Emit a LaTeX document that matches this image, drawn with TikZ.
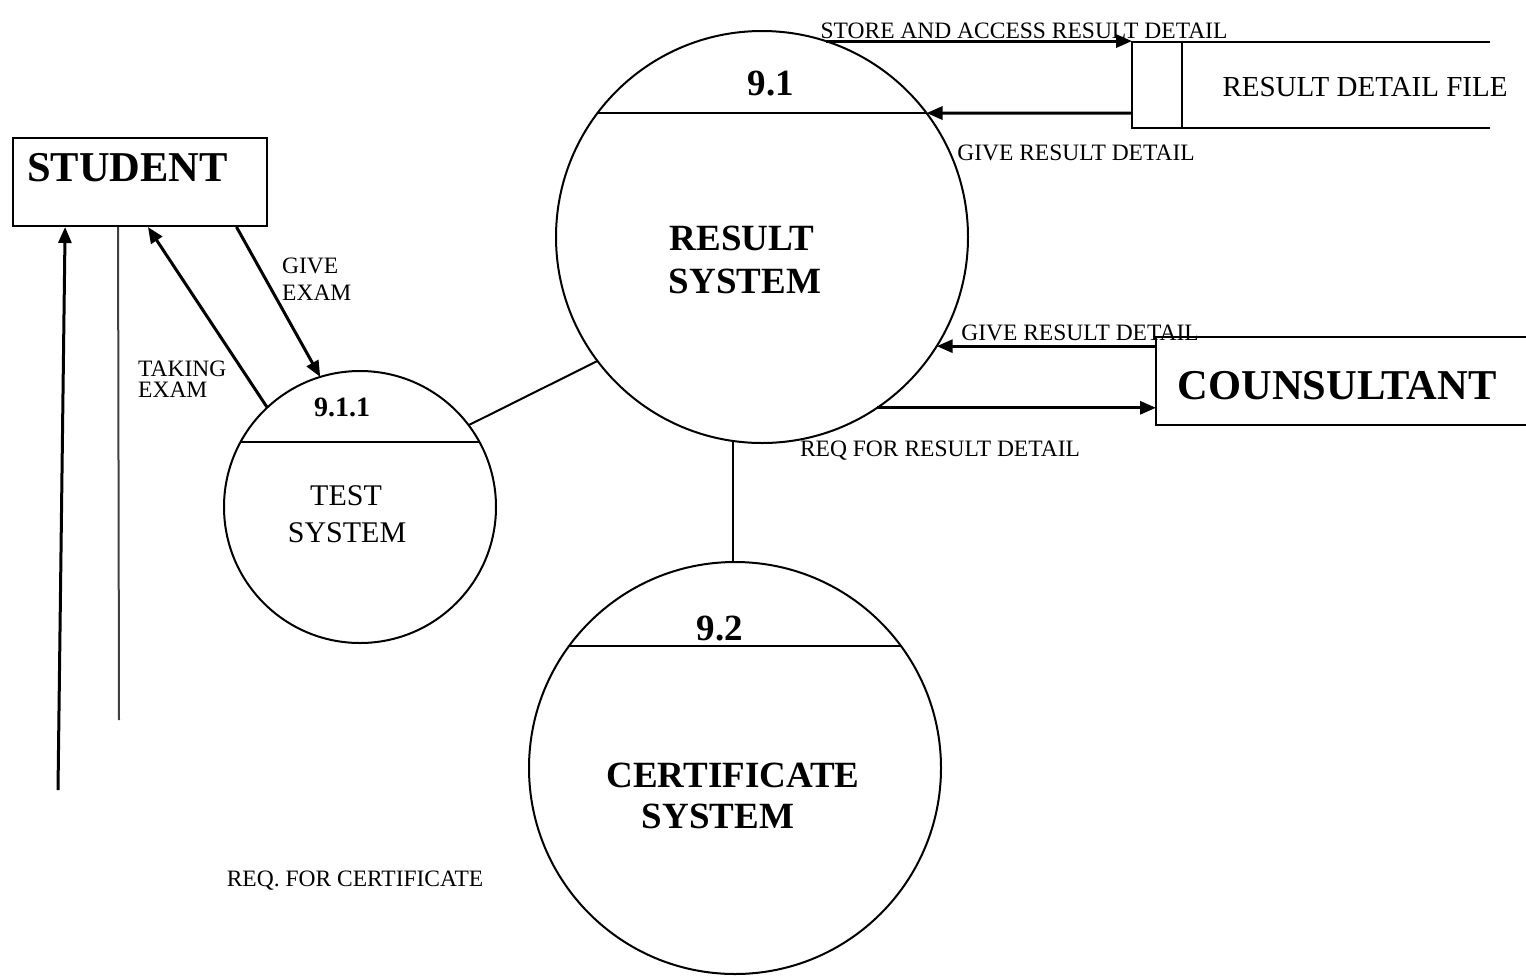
\documentclass[tikz,border=0pt]{standalone}
\usepackage{fontspec}
\setmainfont{Liberation Serif}
\usetikzlibrary{arrows.meta,calc}
\begin{document}
\begin{tikzpicture}[x=1pt,y=-1pt,
  thin line/.style={line width=2pt},
  flow/.style={line width=3pt,-{Triangle[length=16pt,width=13pt]}},
  proc/.style={circle,draw,line width=2pt,inner sep=0pt,outer sep=0pt},
  lbl/.style={inner sep=0pt,anchor=base,font=\fontsize{23.5}{23.5}\selectfont},
  big/.style={inner sep=0pt,anchor=base,font=\fontsize{42.5}{42.5}\selectfont\bfseries},
  mid/.style={inner sep=0pt,anchor=base,font=\fontsize{37}{37}\selectfont\bfseries}]
\useasboundingbox (0,0) rectangle (1526,978);

% processes
\node[proc,minimum size=412pt] (result) at (762,237) {};
\node[proc,minimum size=272pt] (test) at (360,507) {};
\node[proc,minimum size=412pt] (cert) at (735,768) {};
\draw[thin line] ($(result.center)+(-164.5,-124)$) -- ($(result.center)+(164.5,-124)$);
\draw[thin line] ($(test.center)+(-119.5,-65)$) -- ($(test.center)+(119.5,-65)$);
\draw[thin line] ($(cert.center)+(-166,-122)$) -- ($(cert.center)+(166,-122)$);

\node[mid] at (771,95) {9.1};
\node[mid] at (742,250) {RESULT};
\node[mid] at (745,293) {SYSTEM};
\node[inner sep=0pt,anchor=base,font=\fontsize{28}{28}\selectfont\bfseries] at (342,416) {9.1.1};
\node[inner sep=0pt,anchor=base,font=\fontsize{30}{30}\selectfont] at (346,505) {TEST};
\node[inner sep=0pt,anchor=base,font=\fontsize{30}{30}\selectfont] at (347,542) {SYSTEM};
\node[mid] at (720,640) {9.2};
\node[mid] at (733,787) {CERTIFICATE};
\node[mid] at (718,828) {SYSTEM};

% external entities
\node[draw,thin line,minimum width=254pt,minimum height=88pt,inner sep=0pt] (student) at (140,182) {};
\node[big,anchor=base west] at (27,181) {STUDENT};
\node[minimum width=370pt,minimum height=88pt,inner sep=0pt,outer sep=0pt] (cons) at (1341,381) {};
\draw[thin line] (cons.north east) -- (cons.north west) -- (cons.south west) -- (cons.south east);
\node[big] at (1337,399) {COUNSULTANT};

% data store
\node[minimum width=358pt,minimum height=86pt,inner sep=0pt,outer sep=0pt] (store) at (1311,85) {};
\coordinate (storein) at (1132,113);
\draw[thin line] (store.north east) -- (store.north west) -- (store.south west) -- (store.south east);
\draw[thin line] (1182,42) -- (1182,128);
\node[inner sep=0pt,anchor=base,font=\fontsize{29}{29}\selectfont] at (1365,96) {RESULT DETAIL FILE};

% connections between processes
\draw[thin line] (test.37) -- (result.217);
\draw[thin line] (result.262.5) -- (result.262.5 |- cert.north);

% data flows
\draw[flow] (result.72) -- (result.72 -| store.west);
\node[lbl] at (1024,38) {STORE AND ACCESS RESULT DETAIL};
\draw[flow] (storein) -- (result.37);
\node[lbl] at (1076,160) {GIVE RESULT DETAIL};

\draw[flow] (result.-32 -| cons.west) -- (result.-32);
\node[lbl] at (1080,340) {GIVE RESULT DETAIL};
\draw[flow] (result.-56) -- (result.-56 -| cons.west);
\node[lbl] at (940,456) {REQ FOR RESULT DETAIL};

\draw[flow] (student.335.1) -- (test.107);
\node[lbl,anchor=base west] at (282,273) {GIVE};
\node[lbl,anchor=base west] at (282,300) {EXAM};
\draw[flow] (test.133) -- (student.280.3);
\node[lbl,anchor=base west] at (138,376) {TAKING};
\node[lbl,anchor=base west] at (138,397) {EXAM};

\coordinate (reqcert) at (58,790);
\coordinate (certend) at (119,720);
\draw[flow] (reqcert) -- (student.211.4);
\draw[thin line,black!75] (student.244.5) -- (certend);
\node[lbl] at (355,886) {REQ. FOR CERTIFICATE};
\end{tikzpicture}
\end{document}
